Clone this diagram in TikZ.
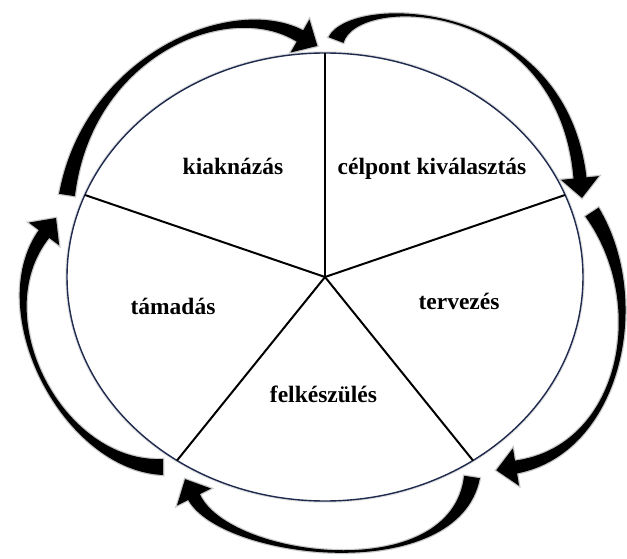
\documentclass[tikz,border=0pt]{standalone}
\usepackage{fontspec}
\setmainfont{Liberation Serif}
\usetikzlibrary{calc}
\definecolor{rim}{RGB}{30,42,78}
\newcommand{\awT}{8pt}
\newcommand{\awC}{3.5pt}
\newcommand{\awH}{6.5pt}
\newcommand{\awB}{19pt}
\newcommand{\ahL}{20pt}
% #1 tail, #2 control 1, #3 control 2, #4 head base
\newcommand{\bandarrow}[4]{%
  \path[band]
    ($(#1)!\awT!90:(#2)$) .. controls ($(#2)!\awC!-90:(#1)$) and ($(#3)!\awC!90:(#4)$) .. ($(#4)!\awH!-90:(#3)$)
    -- ($(#4)!\awB!-90:(#3)$) -- ($(#4)!-\ahL!(#3)$) -- ($(#4)!\awB!90:(#3)$)
    -- ($(#4)!\awH!90:(#3)$) .. controls ($(#3)!\awC!-90:(#4)$) and ($(#2)!\awC!90:(#1)$) .. ($(#1)!\awT!-90:(#2)$)
    -- cycle;}
\begin{document}
\begin{tikzpicture}[x=1pt,y=-1pt,
  lab/.style={font=\fontsize{23.5}{28}\selectfont\bfseries, anchor=base, inner sep=0pt},
  band/.style={fill=black, preaction={draw=black!22, line width=2.5pt}},
  rimline/.style={draw=rim, line width=1.4pt, preaction={draw=black!12, line width=3.5pt}},
  spoke/.style={draw=black, line width=2pt}]
\useasboundingbox (0,0) rectangle (627,559);
% hub and spoke ends
\coordinate (c) at (325,277);
\coordinate (s1) at (325,53);
\coordinate (s2) at (565,195);
\coordinate (s3) at (473,460.5);
\coordinate (s4) at (177,460.5);
\coordinate (s5) at (85,195);
% arrows
\coordinate (a1t) at (67,195);   \coordinate (a1p) at (88,55);   \coordinate (a1q) at (230,-4);  \coordinate (a1h) at (300,36);
\coordinate (a2t) at (336,40);   \coordinate (a2p) at (354,-7);  \coordinate (a2q) at (562,-2);  \coordinate (a2h) at (580,178);
\coordinate (a3t) at (592,212);  \coordinate (a3p) at (652,303); \coordinate (a3q) at (620,450); \coordinate (a3h) at (516,467);
\coordinate (a4t) at (472,477);  \coordinate (a4p) at (455,587); \coordinate (a4q) at (225,559); \coordinate (a4h) at (194,497);
\coordinate (a5t) at (163,467);  \coordinate (a5p) at (63,467);  \coordinate (a5q) at (-16,314); \coordinate (a5h) at (44,234);
\bandarrow{a1t}{a1p}{a1q}{a1h}
\bandarrow{a2t}{a2p}{a2q}{a2h}
\bandarrow{a3t}{a3p}{a3q}{a3h}
\bandarrow{a4t}{a4p}{a4q}{a4h}
\bandarrow{a5t}{a5p}{a5q}{a5h}
% circle
\path[rimline, fill=white] (c) ellipse [x radius=258pt, y radius=224pt];
\draw[spoke] (c) -- (s1);
\draw[spoke] (c) -- (s2);
\draw[spoke] (c) -- (s3);
\draw[spoke] (c) -- (s4);
\draw[spoke] (c) -- (s5);
% labels
\node[lab] (kia) at (233,175) {kiaknázás};
\node[lab] (cel) at (432,175) {célpont kiválasztás};
\node[lab] (tam) at (173,314) {támadás};
\node[lab] (ter) at (459,309) {tervezés};
\node[lab] (fel) at (323.5,402) {felkészülés};
\end{tikzpicture}
\end{document}
